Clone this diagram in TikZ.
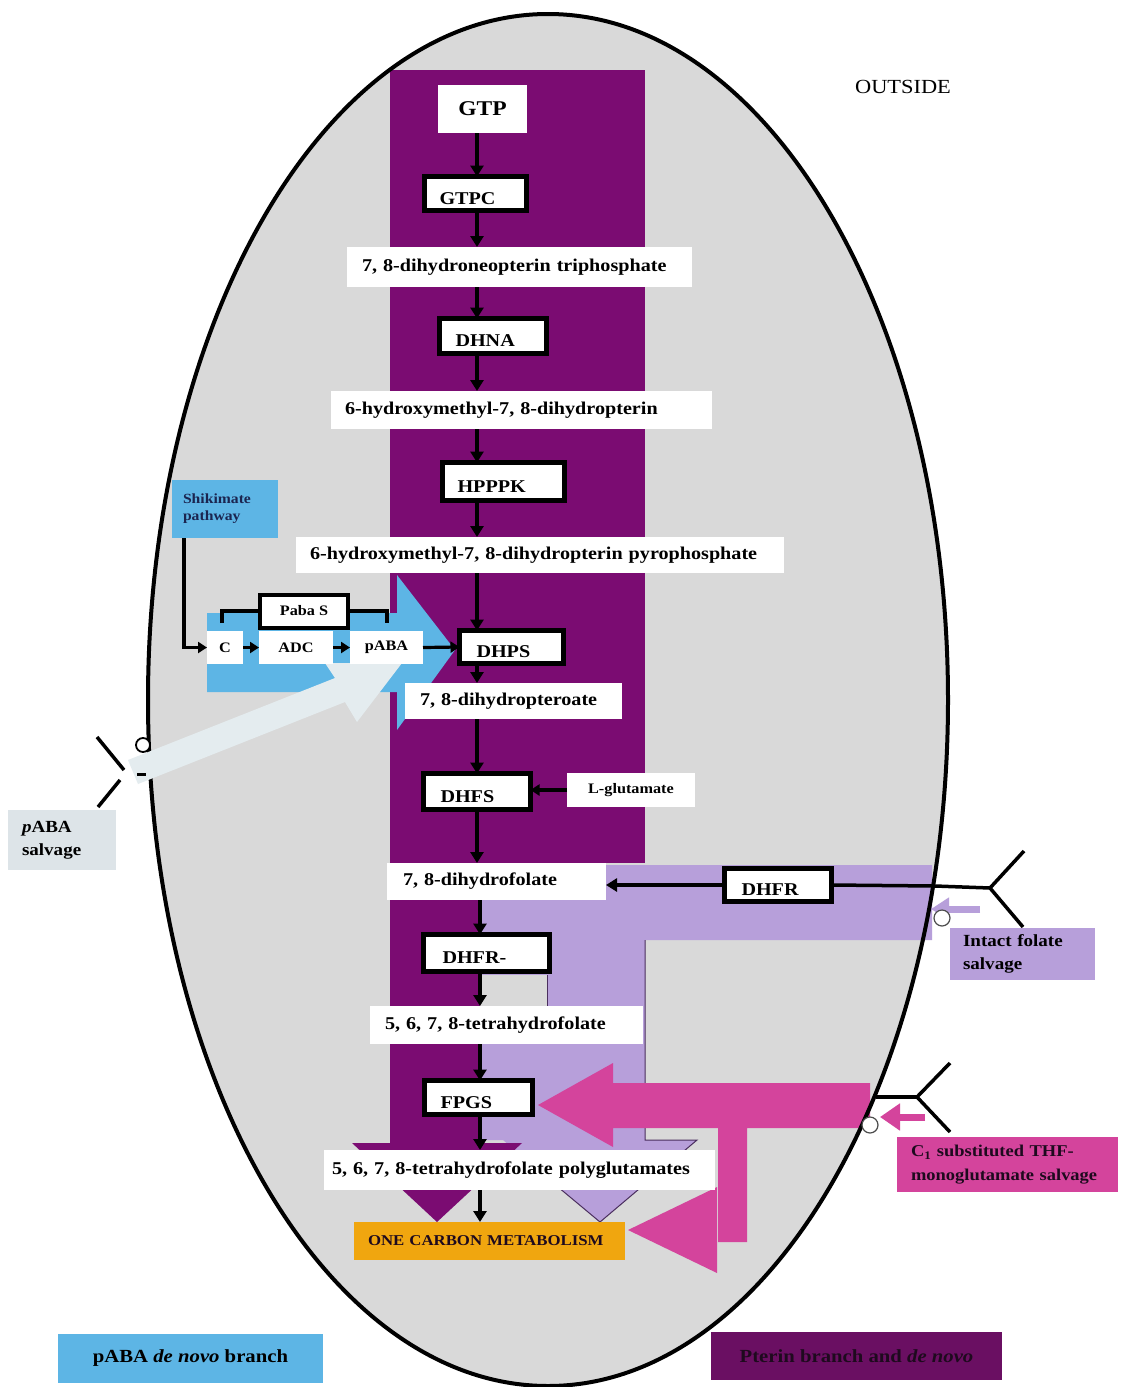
\documentclass[tikz,border=0pt]{standalone}
\usepackage{fontspec}
\setmainfont{Liberation Serif}[FakeStretch=1.12]
\usetikzlibrary{arrows.meta}
\definecolor{cellgrey}{HTML}{D9D9D9}
\definecolor{pterin}{HTML}{7B0C72}
\definecolor{lav}{HTML}{B79FDA}
\definecolor{lavline}{HTML}{4A2E5E}
\definecolor{skyb}{HTML}{5DB5E5}
\definecolor{pale}{HTML}{E4ECEF}
\definecolor{mag}{HTML}{D4449C}
\definecolor{orng}{HTML}{F0A60F}
\definecolor{legpur}{HTML}{6A0F62}
\definecolor{salvg}{HTML}{DDE4E8}
\definecolor{navy}{HTML}{1B2550}
\definecolor{darktxt}{HTML}{1E0A1E}
\begin{document}
\begin{tikzpicture}[x=1pt,y=-1pt,
  every node/.style={inner sep=0pt, outer sep=0pt, align=center, text=black},
  lbl/.style={fill=white, align=left, font=\fontsize{18}{20}\selectfont\bfseries},
  enz/.style={fill=white, draw=black, line width=5pt, align=left, text height=21pt, text depth=0pt, font=\fontsize{18}{20}\selectfont\bfseries},
  sml/.style={fill=white, font=\fontsize{14.5}{16}\selectfont\bfseries},
  arr/.style={line width=3.6pt, -{Triangle[length=11pt,width=13pt]}},
  arrs/.style={line width=3.2pt, -{Triangle[length=9pt,width=11pt]}},
  conn/.style={line width=3.5pt},
  rec/.style={line width=3.5pt},
  memcirc/.style={draw=black!70, fill=white, line width=1.2pt},
]
\useasboundingbox (0,0) rectangle (1120,1387);
\fill[white] (0,0) rectangle (1120,1387);

% cell
\fill[cellgrey] (548,700) ellipse [x radius=400pt, y radius=686pt];

% pterin (dark purple) branch
\fill[pterin] (390,70) rectangle (645,863);

% intact folate salvage (lavender)
\fill[lav] (480,865) -- (932,865) -- (932,940) -- (645,940) -- (645,1140)
  -- (697,1140) -- (600,1222) -- (503,1140) -- (480,1140) -- cycle;
\fill[cellgrey] (480,975) rectangle (547,1008);
\draw[lavline, line width=1pt] (547,975) -- (547,1008);
\draw[lavline, line width=1pt] (645,940) -- (645,1140) -- (697,1140) -- (600,1222) -- (540,1172);

% pterin lower column + head
\fill[pterin] (390,863) -- (480,863) -- (480,1143) -- (522,1143) -- (437,1222)
  -- (352,1143) -- (390,1143) -- cycle;

% pABA de novo (blue)
\fill[skyb] (207,613) -- (397,613) -- (397,575) -- (455,650) -- (397,730)
  -- (397,692) -- (207,692) -- cycle;

% C1 THF salvage (magenta)
\fill[mag] (538,1105) -- (613,1063) -- (613,1083) -- (870,1083) -- (870,1128)
  -- (747,1128) -- (747,1242) -- (718,1242) -- (718,1128) -- (613,1128)
  -- (613,1147) -- cycle;
\fill[mag] (717,1187) -- (717,1273) -- (628,1230) -- cycle;

% membrane
\draw[black, line width=4pt] (548,700) ellipse [x radius=400pt, y radius=686pt];

% pABA salvage arrow (pale)
\fill[pale] (128,760) -- (335,678) -- (325,663) -- (402,663) -- (357,722)
  -- (345,702) -- (138,784) -- cycle;

% receptors
\coordinate (pa1) at (97,737);
\coordinate (pa2) at (124,770);
\coordinate (pa3) at (120,780);
\coordinate (pa4) at (98,807);
\coordinate (pa5) at (137,774);
\coordinate (pa6) at (146,774);
\draw[rec] (pa1) -- (pa2);
\draw[rec] (pa3) -- (pa4);
\draw[line width=3pt] (pa5) -- (pa6);
\coordinate (pc) at (143,745);
\draw[memcirc, draw=black, line width=1.8pt] (pc) circle[radius=7pt];

\coordinate (fr) at (935,886);
\coordinate (ff) at (990,888);
\coordinate (fa) at (1024,851);
\coordinate (fb) at (1023,927);
\draw[rec] (fr) -- (ff);
\draw[rec] (fa) -- (ff) -- (fb);
\coordinate (la1) at (980,909);
\coordinate (la2) at (931,909);
\draw[lav, line width=7pt, -{Triangle[length=18pt,width=22pt]}] (la1) -- (la2);
\coordinate (fc) at (942,918);
\draw[memcirc] (fc) circle[radius=8pt];

\coordinate (mr) at (876,1097);
\coordinate (mf) at (917,1097);
\coordinate (ma) at (950,1063);
\coordinate (mb) at (950,1132);
\draw[rec] (mr) -- (mf);
\draw[rec] (ma) -- (mf) -- (mb);
\coordinate (ma1) at (925,1117);
\coordinate (ma2) at (880,1117);
\draw[mag, line width=7pt, -{Triangle[length=20pt,width=26pt]}] (ma1) -- (ma2);
\coordinate (mc) at (870,1125);
\draw[memcirc] (mc) circle[radius=8pt];

% main pathway nodes
\node[fill=white, minimum width=89pt, minimum height=48pt, font=\fontsize{21}{22}\selectfont\bfseries] (GTP) at (482.5,109) {GTP};
\node[enz, minimum width=102pt, minimum height=34pt, text width=72pt] (GTPC) at (475.5,193.5) {GTPC};
\node[lbl, minimum width=345pt, minimum height=40pt, text width=315pt] (dntp) at (519.5,267) {7, 8-dihydroneopterin triphosphate};
\node[enz, minimum width=107pt, minimum height=35pt, text width=75pt] (DHNA) at (493,336) {DHNA};
\node[lbl, minimum width=381pt, minimum height=38pt, text width=353pt] (hmdp) at (521.5,410) {6-hydroxymethyl-7, 8-dihydropterin};
\node[enz, minimum width=122pt, minimum height=38pt, text width=92pt] (HPPPK) at (503.5,481.5) {HPPPK};
\node[lbl, minimum width=488pt, minimum height=36pt, text width=460pt] (hmdpp) at (540,555) {6-hydroxymethyl-7, 8-dihydropterin pyrophosphate};
\node[enz, minimum width=104pt, minimum height=33pt, text width=70pt] (DHPS) at (511.5,647) {DHPS};
\node[lbl, minimum width=217pt, minimum height=36pt, text width=187pt] (dhpt) at (513.5,701) {7, 8-dihydropteroate};
\node[enz, minimum width=107pt, minimum height=36pt, text width=73pt] (DHFS) at (477,791.5) {DHFS};
\node[sml, minimum width=128pt, minimum height=34pt] (Lglu) at (631,790) {L-glutamate};
\node[lbl, minimum width=219pt, minimum height=37pt, text width=187pt] (dhf) at (496.5,881.5) {7, 8-dihydrofolate};
\node[enz, minimum width=107pt, minimum height=33pt, text width=73pt] (DHFR) at (778,885) {DHFR};
\node[enz, minimum width=126pt, minimum height=37pt, text width=88pt] (DHFRm) at (486.5,953) {DHFR-};
\node[lbl, minimum width=273pt, minimum height=38pt, text width=243pt] (thf) at (506.5,1025) {5, 6, 7, 8-tetrahydrofolate};
\node[enz, minimum width=108pt, minimum height=34pt, text width=76pt] (FPGS) at (478.5,1097.5) {FPGS};
\node[lbl, minimum width=391pt, minimum height=40pt, text width=375pt] (thfpg) at (519.5,1170) {5, 6, 7, 8-tetrahydrofolate polyglutamates};
\node[lbl, fill=orng, text=darktxt, minimum width=271pt, minimum height=38pt, text width=243pt, font=\fontsize{15}{16}\selectfont\bfseries] (OCM) at (489.5,1241) {ONE CARBON METABOLISM};

% pABA branch nodes
\node[fill=skyb, text=navy, minimum width=106pt, minimum height=58pt, text width=84pt, align=left, font=\fontsize{14}{17}\selectfont\bfseries] (Shik) at (225,509) {Shikimate\\pathway};
\node[sml, minimum width=36pt, minimum height=33pt] (C) at (225,647.5) {C};
\node[sml, minimum width=74pt, minimum height=33pt] (ADC) at (296,647.5) {ADC};
\node[sml, minimum width=73pt, minimum height=33pt] (pABA) at (386.5,647.5) {pABA};
\node[sml, draw=black, line width=4pt, minimum width=88pt, minimum height=33pt] (PabaS) at (304,611) {Paba S};

% salvage labels
\node[fill=salvg, minimum width=108pt, minimum height=60pt, text width=80pt, align=left, font=\fontsize{17}{23}\selectfont\bfseries] (pABAs) at (62,840) {\textit{p}ABA\\salvage};
\node[fill=lav, minimum width=145pt, minimum height=52pt, text width=119pt, align=left, font=\fontsize{17}{23}\selectfont\bfseries] (IFs) at (1022.5,954) {Intact folate\\salvage};
\node[fill=mag, text=darktxt, minimum width=221pt, minimum height=55pt, text width=193pt, align=left, font=\fontsize{16.5}{24}\selectfont\bfseries] (C1s) at (1007.5,1164.5) {C\textsubscript{1} substituted THF-\\monoglutamate salvage};

% legend and outside
\node[fill=skyb, minimum width=265pt, minimum height=49pt, font=\fontsize{18.5}{20}\selectfont\bfseries] (legA) at (190.5,1358.5) {pABA \textit{de novo} branch};
\node[fill=legpur, text=darktxt, minimum width=291pt, minimum height=48pt, font=\fontsize{18.5}{20}\selectfont\bfseries] (legB) at (856.5,1356) {Pterin branch and \textit{de novo}};
\node[font=\fontsize{20}{22}\selectfont] (out) at (903,87) {OUTSIDE};

% connectors
\coordinate (ax) at (477,0);
\coordinate (bx) at (480,0);
\draw[arr] (GTP.south -| ax) -- (GTPC.north -| ax);
\draw[arr] (GTPC.south -| ax) -- (dntp.north -| ax);
\draw[arr] (dntp.south -| ax) -- (DHNA.north -| ax);
\draw[arr] (DHNA.south -| ax) -- (hmdp.north -| ax);
\draw[arr] (hmdp.south -| ax) -- (HPPPK.north -| ax);
\draw[arr] (HPPPK.south -| ax) -- (hmdpp.north -| ax);
\draw[arr] (hmdpp.south -| ax) -- (DHPS.north -| ax);
\draw[arr] (DHPS.south -| ax) -- (dhpt.north -| ax);
\draw[arr] (dhpt.south -| ax) -- (DHFS.north -| ax);
\draw[arr] (DHFS.south -| ax) -- (dhf.north -| ax);
\draw[arr] (dhf.south -| bx) -- (DHFRm.north -| bx);
\draw[arr] (DHFRm.south -| bx) -- (thf.north -| bx);
\draw[arr] (thf.south -| bx) -- (FPGS.north -| bx);
\draw[arr] (FPGS.south -| bx) -- (thfpg.north -| bx);
\draw[arr] (thfpg.south -| bx) -- (OCM.north -| bx);
\draw[arrs] (Lglu.west) -- (DHFS.east |- Lglu.west);

\draw[conn] (fr) -- (DHFR.east);
\draw[arr] (DHFR.west) -- (dhf.east |- DHFR.west);

\coordinate (sx) at (184,0);
\draw[arrs] (Shik.south -| sx) |- (C.west);
\draw[arrs] (C.east) -- (ADC.west);
\draw[arrs] (ADC.east) -- (pABA.west);
\draw[arrs] (pABA.east) -- (DHPS.west);
\coordinate (bl) at (222,0);
\coordinate (br) at (387,0);
\draw[conn] ([yshift=8pt]C.north -| bl) |- (PabaS.west);
\draw[conn] (PabaS.east) -| ([yshift=8pt]pABA.north -| br);
\end{tikzpicture}
\end{document}
